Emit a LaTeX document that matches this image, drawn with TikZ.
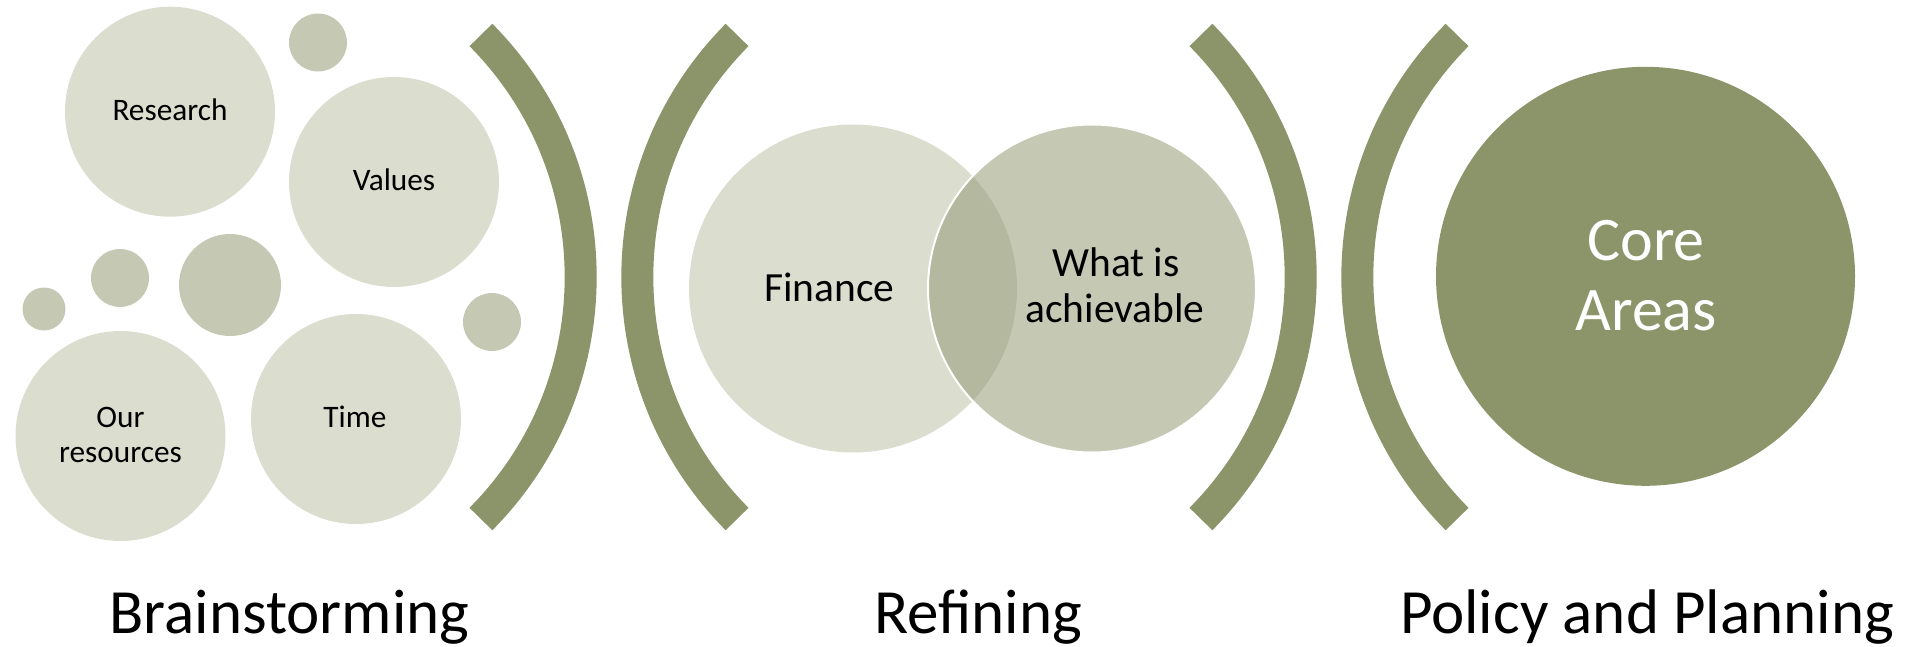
\documentclass[tikz,border=0pt]{standalone}
\usepackage{fontspec}
\setmainfont{Carlito}
\definecolor{lightc}{RGB}{219,221,207}
\definecolor{midc}{RGB}{197,201,180}
\definecolor{olivec}{RGB}{140,148,106}
\definecolor{overc}{RGB}{180,184,158}
\tikzset{
  bub/.style={circle, inner sep=0pt, outer sep=0pt, fill=lightc},
  dotc/.style={circle, inner sep=0pt, outer sep=0pt, fill=midc},
  smalltxt/.style={anchor=base, inner sep=0pt, font=\fontsize{31.3}{35}\selectfont},
  midtxt/.style={anchor=base, inner sep=0pt, font=\fontsize{41.5}{46}\selectfont},
  bigtxt/.style={anchor=base, inner sep=0pt, text=white, font=\fontsize{62}{70}\selectfont},
  stagetxt/.style={anchor=base, inner sep=0pt, font=\fontsize{63}{70}\selectfont},
  bracketc/.style={draw=olivec, line width=32pt}
}
\begin{document}
\begin{tikzpicture}[x=1pt,y=-1pt]
\useasboundingbox (0,0) rectangle (1911,647);

% Brainstorming bubbles
\node[bub, minimum size=210pt] (research) at (170,111.7) {};
\node[dotc, minimum size=58pt] (dotA) at (318,42.5) {};
\node[bub, minimum size=210pt] (values) at (394,182) {};
\node[dotc, minimum size=43pt] (dotB) at (44,309) {};
\node[dotc, minimum size=58pt] (dotC) at (120,278) {};
\node[dotc, minimum size=102pt] (dotD) at (230,285) {};
\node[dotc, minimum size=58pt] (dotE) at (492,322) {};
\node[bub, minimum size=210pt] (resources) at (120.5,436) {};
\node[bub, minimum size=210pt] (time) at (356,419) {};

\node[smalltxt] (tresearch) at (170,120.7) {Research};
\node[smalltxt] (tvalues) at (394,190.7) {Values};
\node[smalltxt] (tour) at (120.5,427.7) {Our};
\node[smalltxt] (tresources) at (120.5,462.7) {resources};
\node[smalltxt] (ttime) at (355,427.7) {Time};

% brackets
\coordinate (c1) at (237.2,277);
\coordinate (c2) at (980.8,277);
\coordinate (c3) at (957.2,277);
\coordinate (c4) at (1700.8,277);
\draw[bracketc] (c1) ++(-44.8:343.5pt) arc[start angle=-44.8, end angle=44.8, radius=343.5pt];
\draw[bracketc] (c2) ++(135.2:343.5pt) arc[start angle=135.2, end angle=224.8, radius=343.5pt];
\draw[bracketc] (c3) ++(-44.8:343.5pt) arc[start angle=-44.8, end angle=44.8, radius=343.5pt];
\draw[bracketc] (c4) ++(135.2:343.5pt) arc[start angle=135.2, end angle=224.8, radius=343.5pt];

% Venn
\node[bub, minimum size=328pt] (finance) at (853,288.5) {};
\node[dotc, minimum size=328pt] (achv) at (1092,288.5) {};
\begin{scope}
  \clip (finance.center) circle[radius=164pt];
  \fill[overc] (achv.center) circle[radius=164pt];
\end{scope}
\draw[white, line width=2pt] (achv.center) circle[radius=164pt];

\node[midtxt] (tfinance) at (829.3,301) {Finance};
\node[midtxt] (twhat) at (1116,276.7) {What is};
\node[midtxt] (tachv) at (1115,322.7) {achievable};

% Core
\node[circle, inner sep=0pt, fill=olivec, minimum size=419pt] (core) at (1645.5,276.3) {};
\node[bigtxt] (tcore) at (1646,260) {Core};
\node[bigtxt] (tareas) at (1646,330) {Areas};

% stage labels
\node[stagetxt] (s1) at (289.5,633) {Brainstorming};
\node[stagetxt] (s2) at (978,633) {Refining};
\node[stagetxt] (s3) at (1647,633) {Policy and Planning};
\end{tikzpicture}
\end{document}
